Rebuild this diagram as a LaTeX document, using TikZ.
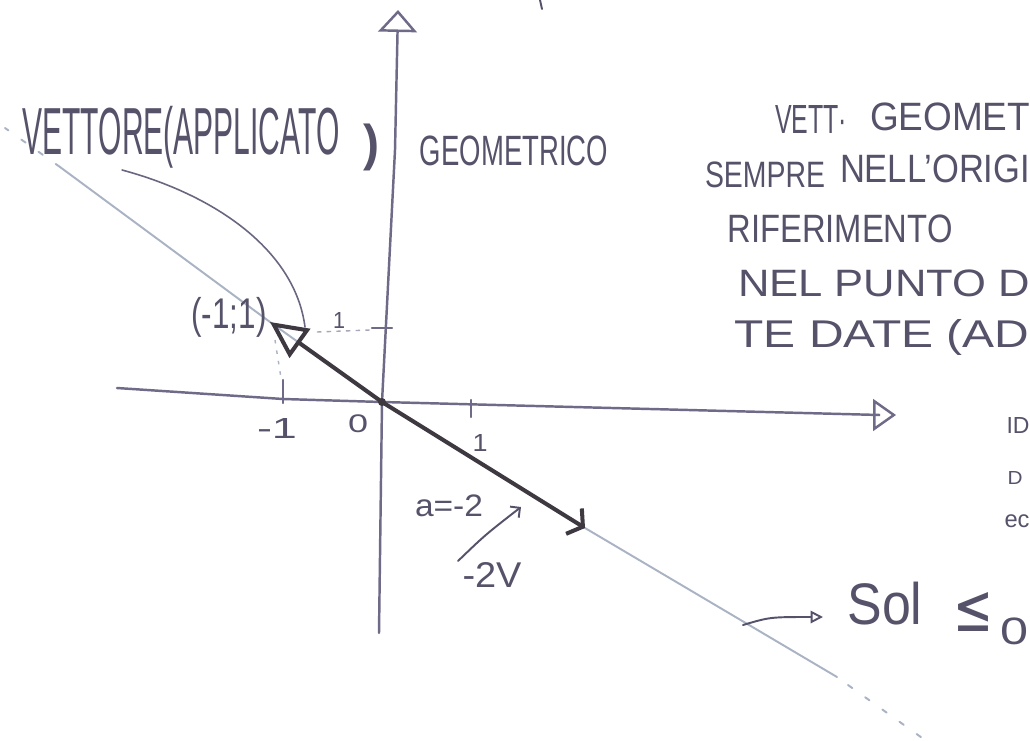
\documentclass[tikz,border=0pt]{standalone}
\usepackage{graphicx}
\usepackage{fontspec}
\setmainfont{Liberation Sans}
\newfontfamily\symf{DejaVu Sans}
\usetikzlibrary{arrows.meta}
\definecolor{ink}{HTML}{55526A}
\definecolor{axisc}{HTML}{6E6A88}
\definecolor{lightc}{HTML}{A9B3C4}
\definecolor{vecc}{HTML}{3E3840}
\definecolor{arcc}{HTML}{6A6680}
\newlength\pxu \setlength\pxu{0.02cm}
\newcommand\hw[3]{\resizebox*{#1\pxu}{#2\pxu}{#3}}
\tikzset{
  hand/.style={inner sep=0pt, text=ink, anchor=center},
  axisline/.style={draw=axisc, line width=1.4pt, line cap=round},
  solline/.style={draw=lightc, line width=1.1pt, line cap=round},
  vecline/.style={draw=vecc, line width=2.3pt, line cap=round},
  thinink/.style={draw=ink, line width=1.1pt, line cap=round},
}
\begin{document}
\begin{tikzpicture}[x=0.02cm, y=-0.02cm]
\useasboundingbox[fill=white] (0,0) rectangle (1030,740);
% named points
\coordinate (O) at (382,402);
\coordinate (P) at (270,322);
\coordinate (Q) at (585,528);
\coordinate (L1) at (60,167);
\coordinate (L0) at (5,128);
\coordinate (L2) at (837,677);
\coordinate (L3) at (848,685);
\coordinate (L4) at (925,740);
\coordinate (YB) at (379,633);
\coordinate (YM) at (395,150);
\coordinate (YT) at (398,10);
\coordinate (XL) at (117,388);
\coordinate (XM) at (283,399);
\coordinate (XR) at (880,415);
\coordinate (XT) at (896,415);
% solution line
\draw[solline] (L1) -- (P) -- (O) -- (Q) -- (L2);
\draw[solline, dash pattern=on 3pt off 9pt] (L1) -- (L0);
\draw[solline, dash pattern=on 3pt off 9pt] (L3) -- (L4);
% axes
\draw[axisline, -{Triangle[open,length=12.5pt,width=22pt]}] (YB) -- (O) -- (YM) -- (YT);
\draw[axisline, -{Triangle[open,length=13pt,width=18pt]}] (XL) -- (XM) -- (O) -- (XR) -- (XT);
% ticks
\coordinate (Tm1a) at (283,380); \coordinate (Tm1b) at (283,403);
\coordinate (Tp1a) at (471,400); \coordinate (Tp1b) at (471,417);
\coordinate (Ty1a) at (372,328); \coordinate (Ty1b) at (392,328);
\draw[axisline] (Tm1a) -- (Tm1b);
\draw[axisline] (Tp1a) -- (Tp1b);
\draw[axisline] (Ty1a) -- (Ty1b);
% dotted guides
\coordinate (D1a) at (317,332); \coordinate (D1b) at (370,330);
\coordinate (D2a) at (275,340); \coordinate (D2b) at (281,378);
\draw[draw=axisc!60, line width=0.8pt, dash pattern=on 2.5pt off 3pt] (D1a) -- (D1b);
\draw[draw=lightc, line width=0.8pt, dash pattern=on 2pt off 4pt] (D2a) -- (D2b);
% vectors
\draw[vecline, -{Triangle[open,length=21pt,width=20pt]}] (O) -- (P);
\draw[vecline, -{Straight Barb[length=6pt,width=17pt]}] (O) -- (Q);
\fill[vecc] (O) circle (4);
% callout arc
\coordinate (A0) at (122,170); \coordinate (A1) at (305,327);
\draw[draw=arcc, line width=0.9pt, line cap=round] (A0) .. controls (215,195) and (295,250) .. (A1);
% small arrow near a=-2
\coordinate (S0) at (458,561); \coordinate (S1) at (521,507);
\draw[thinink, -{Straight Barb[length=4pt,width=8pt]}] (S0) .. controls (485,535) .. (S1);
% Sol callout
\coordinate (C0) at (743,625); \coordinate (C1) at (823,617);
\draw[thinink, -{Triangle[open,length=7pt,width=7pt]}] (C0) .. controls (770,617) .. (C1);
% top stray stroke
\coordinate (M0) at (540,0); \coordinate (M1) at (542,9);
\draw[thinink] (M0) -- (M1);
% texts
\node[hand] (tv) at (181,137) {\hw{317}{62}{VETTORE(APPLICATO}};
\node[hand] (tp) at (371,147) {\hw{16}{47}{\bfseries )}};
\node[hand] (tg) at (514,151) {\hw{188}{30}{GEOMETRICO}};
\node[hand] (r1a) at (811,119) {\hw{72}{28}{VETT·}};
\node[hand] (r1b) at (950,117) {\hw{160}{28}{GEOMET}};
\node[hand] (r2a) at (765,175) {\hw{120}{26}{SEMPRE}};
\node[hand] (r2b) at (935,169) {\hw{190}{28}{NELL'ORIGI}};
\node[hand] (r3) at (840,229) {\hw{225}{28}{RIFERIMENTO}};
\node[hand] (r4) at (884,283) {\hw{292}{27}{NEL PUNTO D}};
\node[hand] (r5) at (882,337) {\hw{295}{36}{TE DATE (AD}};
\node[hand] (r6) at (1018,425) {\hw{23}{16}{ID}};
\node[hand] (r7) at (1015,478) {\hw{15}{13}{D}};
\node[hand] (r8) at (1017,521) {\hw{25}{13}{ec}};
\node[hand] (lp) at (229,317) {\hw{75}{40}{(-1;1)}};
\node[hand] (ly1) at (339,320) {\hw{12}{16}{1}};
\node[hand] (lxm1) at (277,428) {\hw{40}{20}{-1}};
\node[hand] (lx0) at (358,424) {\hw{20}{18}{0}};
\node[hand] (lx1) at (480,443) {\hw{15}{17}{1}};
\node[hand] (la) at (449,506) {\hw{68}{22}{a=-2}};
\node[hand] (lv) at (492,575) {\hw{59}{25}{-2V}};
\node[hand] (ls) at (885,604) {\hw{75}{43}{Sol}};
\node[hand] (lle) at (973,612) {\hw{40}{39}{\symf ≤}};
\node[hand] (lz) at (1014,631) {\hw{28}{27}{0}};
\end{tikzpicture}
\end{document}
